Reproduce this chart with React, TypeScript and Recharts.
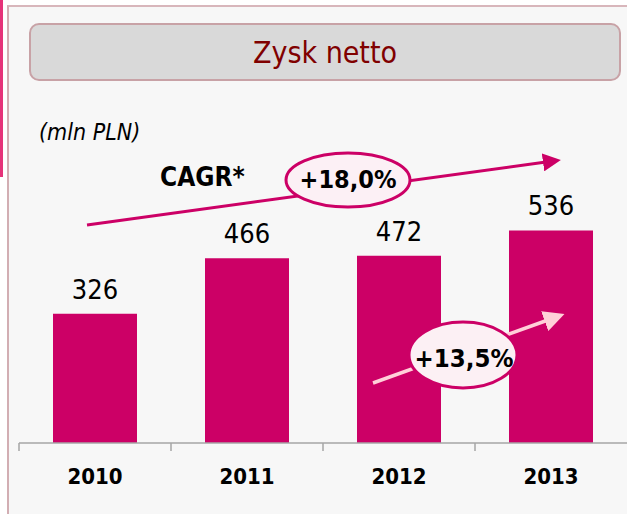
import React from "react";
import { BarChart, Bar, XAxis, YAxis, LabelList } from "recharts";

// dane: zysk netto w mln PLN
const years = ["2010", "2011", "2012", "2013"];
const profit = [326, 466, 472, 536];
const yDomain = [0, 600];

const cagrText = "+18,0%";
const yoyText = "+13,5%";

const data = years.map((year, i) => ({ year, value: profit[i] }));

const W = 627;
const H = 514;
const M = { top: 205, right: 0, bottom: 31, left: 19 };
const FONT = "'DejaVu Sans Condensed', 'DejaVu Sans', sans-serif";
const MAGENTA = "#cc0066";

// pół szerokości kategorii - kreski osi są na granicach kategorii
const halfBand = (W - M.left - M.right) / years.length / 2;

const YearTick = (props: any) => {
  const { x, y, payload } = props;
  return (
    <g>
      <line x1={x - halfBand} y1={y - 8} x2={x - halfBand} y2={y} stroke="#a6a6a6" strokeWidth={1.5} />
      <text x={x} y={y + 33} textAnchor="middle" fontFamily={FONT} fontWeight="bold" fontSize={22} fill="#000">
        {payload.value}
      </text>
    </g>
  );
};

export default function App() {
  return (
    <div style={{ position: "absolute", left: 0, top: 0, width: W, height: H, background: "#fff", overflow: "hidden", fontFamily: FONT }}>
      {/* tło panelu */}
      <div
        style={{
          position: "absolute",
          left: 7,
          top: 5,
          right: 0,
          bottom: 0,
          background: "#f7f7f7",
          borderLeft: "2px solid #d2aeb3",
          borderTop: "2px solid #d8b6bb",
        }}
      />
      <div style={{ position: "absolute", left: 0, top: 0, width: 3, height: 177, background: "#e6337a" }} />

      {/* tytuł */}
      <div
        style={{
          position: "absolute",
          left: 29,
          top: 23,
          width: 592,
          height: 58,
          boxSizing: "border-box",
          background: "#d9d9d9",
          border: "2.5px solid #c8a2a6",
          borderRadius: 10,
          display: "flex",
          alignItems: "center",
          justifyContent: "center",
          color: "#800000",
          fontSize: 30,
        }}
      >
        Zysk netto
      </div>

      <div style={{ position: "absolute", left: 0, top: 0 }}>
        <BarChart width={W} height={H} data={data} margin={M} barCategoryGap={34}>
          <XAxis
            dataKey="year"
            axisLine={{ stroke: "#a6a6a6", strokeWidth: 1.5 }}
            tickLine={false}
            tickSize={8}
            tickMargin={0}
            height={40}
            interval={0}
            tick={<YearTick />}
          />
          <YAxis hide domain={yDomain} />
          <Bar dataKey="value" fill={MAGENTA} isAnimationActive={false}>
            <LabelList dataKey="value" position="top" offset={15} fontFamily={FONT} fontSize={27} fill="#000" />
          </Bar>
        </BarChart>
      </div>

      {/* adnotacje */}
      <svg width={W} height={H} style={{ position: "absolute", left: 0, top: 0, pointerEvents: "none" }}>
        <defs>
          <marker id="headDark" markerWidth="6" markerHeight="6" refX="1" refY="3" orient="auto" markerUnits="strokeWidth">
            <path d="M0,0 L6,3 L0,6 z" fill={MAGENTA} />
          </marker>
          <marker id="headLight" markerWidth="6" markerHeight="6" refX="1" refY="3" orient="auto" markerUnits="strokeWidth">
            <path d="M0,0 L6,3 L0,6 z" fill="#ffd0d8" />
          </marker>
        </defs>

        <text x={39} y={140} fontFamily={FONT} fontStyle="italic" fontSize={23} fill="#000">
          (mln PLN)
        </text>
        <text x={160} y={186} fontFamily={FONT} fontWeight="bold" fontSize={26} fill="#000">
          CAGR*
        </text>

        <line x1={87} y1={225} x2={546} y2={162} stroke={MAGENTA} strokeWidth={3} markerEnd="url(#headDark)" />
        <ellipse cx={348} cy={180} rx={62} ry={27} fill="#fcf0f5" stroke={MAGENTA} strokeWidth={3} />
        <text x={348} y={188} textAnchor="middle" fontFamily={FONT} fontWeight="bold" fontSize={25} fill="#000">
          {cagrText}
        </text>

        <line x1={373} y1={383} x2={548} y2={320} stroke="#ffd0d8" strokeWidth={3.5} markerEnd="url(#headLight)" />
        <ellipse cx={463} cy={355} rx={54} ry={33} fill="#fcf0f4" stroke={MAGENTA} strokeWidth={3} />
        <text x={464} y={367} textAnchor="middle" fontFamily={FONT} fontWeight="bold" fontSize={25.5} fill="#000">
          {yoyText}
        </text>
      </svg>
    </div>
  );
}
